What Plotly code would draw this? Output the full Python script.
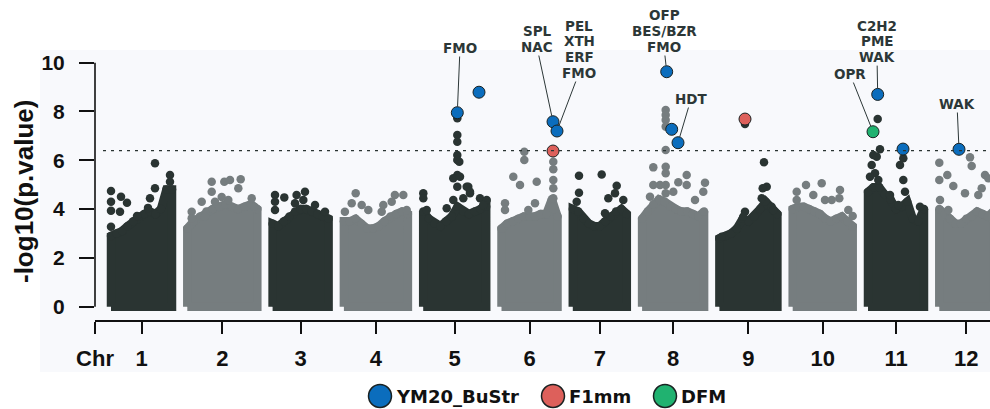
import plotly.graph_objects as go

# ---------------- data ----------------
CHR_NAMES = ["1", "2", "3", "4", "5", "6", "7", "8", "9", "10", "11", "12"]
CHR_LEN = [61, 70, 56, 64, 63, 56, 54, 62, 58, 60, 56, 54]   # Mb (plotted span)
CHR_GAP = 15.3
THRESHOLD = 6.4

# upper edge of the dense band of SNPs, evenly spaced along each chromosome
ENV_C1 = [2.9, 3.0, 3.1, 3.3, 3.5, 3.7, 3.8, 3.9, 3.8, 4.0, 4.8, 4.8]
ENV_C2 = [3.2, 3.5, 3.7, 3.9, 4.0, 4.1, 4.2, 4.1, 4.0, 4.1, 4.2, 4.0]
ENV_C3 = [3.4, 3.3, 3.5, 3.7, 3.9, 4.0, 4.0, 3.9, 3.8, 3.7, 3.6]
ENV_C4 = [3.5, 3.5, 3.6, 3.4, 3.2, 3.2, 3.3, 3.5, 3.7, 3.8, 3.9, 3.8]
ENV_C5 = [3.9, 3.6, 3.4, 3.3, 3.5, 3.7, 4.1, 3.9, 3.8, 3.9, 4.0, 4.1]
ENV_C6 = [3.2, 3.4, 3.5, 3.6, 3.7, 3.7, 3.7, 3.8, 3.8, 4.4, 3.7]
ENV_C7 = [4.0, 3.9, 3.6, 3.4, 3.3, 3.3, 3.5, 3.7, 3.9, 4.0, 3.8]
ENV_C8 = [3.6, 3.9, 4.2, 4.4, 4.3, 4.1, 4.0, 3.9, 3.9, 3.8, 3.7, 3.9]
ENV_C9 = [2.8, 2.9, 3.0, 3.2, 3.6, 3.5, 3.7, 4.0, 4.3, 4.1, 3.8]
ENV_C10 = [4.0, 4.1, 4.1, 4.0, 3.9, 3.8, 3.6, 3.5, 3.6, 3.7, 3.5, 3.3]
ENV_C11 = [4.7, 4.9, 4.9, 4.6, 4.4, 4.0, 4.1, 4.3, 3.6, 3.5, 4.0]
ENV_C12 = [4.0, 3.8, 3.6, 3.4, 3.4, 3.6, 3.7, 3.9, 3.8, 3.7, 3.9]

# individual SNPs standing above the band: position in chromosome (Mb), -log10(p)
PTS_C1_POS = [0, 0, 0, 0, 10, 16, 9, 26, 44, 44, 39, 59, 59, 37]
PTS_C1_VAL = [4.74, 4.3, 3.93, 3.28, 4.51, 4.26, 3.89, 3.72, 5.88, 4.85, 4.44, 5.4, 5.12, 4.05]
PTS_C2_POS = [4.4, 14.4, 24.4, 24.4, 37, 42.7, 53.4, 51, 27.7, 41, 64.4, 67, 17.7, 4.4, 34.4]
PTS_C2_VAL = [3.89, 4.3, 5.12, 4.71, 5.12, 5.19, 5.22, 4.85, 4.3, 4.37, 4.44, 4.1, 3.69, 3.62, 4.5]
PTS_C3_POS = [2.4, 11.7, 24, 32.4, 30.7, 42.4, 52.4, 2.4, 2.4, 22.4]
PTS_C3_VAL = [4.58, 4.48, 4.58, 4.71, 4.37, 4.17, 3.89, 3.96, 4.3, 4.24]
PTS_C4_POS = [11.8, 7.8, 17.8, 24.4, 1, 39.4, 37.8, 51, 59.4, 62.8, 47.8]
PTS_C4_VAL = [4.65, 4.24, 4.17, 3.96, 3.89, 4.17, 3.89, 4.58, 4.58, 3.96, 4.3]
PTS_C5_POS = [34.1, 34.1, 34.1, 34.1, 34.1, 34.1, 30.1, 34.1, 43.5, 46.8, 36.1, 36.8,
              45.1, 30.1, 40.1, 56.8, 63.5, 0.1, 0.1, 3.5, 23.5, 46.8, 60]
PTS_C5_VAL = [7.72, 7.04, 6.76, 6.22, 6.01, 5.4, 5.26, 4.92, 4.92, 4.65, 5.94, 5.33,
              4.92, 4.37, 4.44, 4.44, 4.37, 4.65, 4.44, 3.96, 4.03, 4.71, 4.17]
PTS_C6_POS = [51.8, 51.8, 51.8, 51.8, 11.8, 18.5, 35.2, 33.5, 3.5, 3.5, 22.8, 22.8, 26.8, 51.8]
PTS_C6_VAL = [5.94, 5.63, 5.19, 4.85, 5.33, 4.99, 5.12, 4.24, 4.24, 3.96, 6.35, 6.01, 3.96, 4.44]
PTS_C7_POS = [6.2, 6.2, 28.9, 43.9, 42.2, 35.5, 50.5, 32.2, 3.9]
PTS_C7_VAL = [5.37, 4.67, 5.42, 4.96, 4.65, 4.44, 4.37, 3.83, 4.3]
PTS_C8_POS = [23.6, 23.6, 23.6, 23.6, 23.6, 23.6, 23.6, 23.6, 23.6, 11.2, 11.2, 17.9,
              36.2, 44.6, 62.9, 61.2, 52.9, 44.6, 31.2, 7.9]
PTS_C8_VAL = [8.06, 7.86, 7.65, 7.38, 6.42, 5.74, 5.47, 4.99, 4.65, 5.71, 4.99, 4.99,
              5.1, 5.4, 5.08, 4.71, 4.37, 4.99, 4.71, 4.51]
PTS_C9_POS = [44.6, 47.3, 43.3, 42.3, 25.6, 2.3, 53.9, 25.6, 23.9]
PTS_C9_VAL = [5.92, 4.92, 4.85, 4.44, 3.89, 2.87, 3.96, 7.49, 3.69]
PTS_C10_POS = [4, 13.3, 29, 20.6, 47.3, 46.6, 39, 60, 55.6, 32.3, 4]
PTS_C10_VAL = [4.71, 4.99, 5.06, 4.58, 4.78, 4.44, 4.37, 3.72, 3.96, 4.37, 4.37]
PTS_C11_POS = [9.7, 12, 5.3, 35.3, 32, 35.3, 37, 22, 30.3, 3.7, 7, 2, 10.3, 8.7, 52]
PTS_C11_VAL = [7.69, 6.45, 6.22, 6.08, 5.81, 5.19, 4.71, 4.58, 4.17, 5.81, 5.47, 5.33, 5.19, 6.15, 4.1]
PTS_C12_POS = [0, 8, 14, 30.7, 32.4, 25.7, 42.4, 45.7, 0, 0.7, 39, 49, 9]
PTS_C12_VAL = [5.9, 5.4, 4.95, 6.12, 5.77, 4.65, 4.85, 5.4, 5.19, 4.37, 4.58, 5.26, 3.96]

# significant hits, coloured by trait
HIT_TRAIT = ["YM20_BuStr"] * 10 + ["F1mm"] * 2 + ["DFM"]
HIT_CHR = [5, 5, 6, 6, 8, 8, 8, 11, 11, 12, 6, 9, 11]
HIT_POS = [34.1, 55.8, 51.5, 55.5, 24.6, 29.6, 35.9, 9.7, 35.0, 19.7, 51.5, 25.6, 5.0]
HIT_VAL = [7.95, 8.79, 7.58, 7.2, 9.63, 7.27, 6.72, 8.7, 6.46, 6.45, 6.38, 7.69, 7.17]

# gene-family labels attached to hits (index into HIT_*)
LAB_HIT = [0, 2, 3, 4, 6, 7, 12, 9]
LAB_TEXT = ["FMO", "SPL\nNAC", "PEL\nXTH\nERF\nFMO", "OFP\nBES/BZR\nFMO", "HDT",
            "C2H2\nPME\nWAK", "OPR", "WAK"]
# ---------------- styling ----------------
LAB_DX = [2.7, -16, 22, -2.7, 13, -0.7, -23, -2]
LAB_DY = [-64.7, -74.7, -58, -24.7, -43.7, -37.3, -57.7, -45.3]

TRAITS = ["YM20_BuStr", "F1mm", "DFM"]
TRAIT_COLOR = {"YM20_BuStr": "#0b6dbd", "F1mm": "#dd605b", "DFM": "#20b270"}
CHR_COLORS = ["#2a3432", "#767d7f"]

ENVS = [ENV_C1, ENV_C2, ENV_C3, ENV_C4, ENV_C5, ENV_C6, ENV_C7, ENV_C8, ENV_C9, ENV_C10, ENV_C11, ENV_C12]
PTS_POS = [PTS_C1_POS, PTS_C2_POS, PTS_C3_POS, PTS_C4_POS, PTS_C5_POS, PTS_C6_POS,
           PTS_C7_POS, PTS_C8_POS, PTS_C9_POS, PTS_C10_POS, PTS_C11_POS, PTS_C12_POS]
PTS_VAL = [PTS_C1_VAL, PTS_C2_VAL, PTS_C3_VAL, PTS_C4_VAL, PTS_C5_VAL, PTS_C6_VAL,
           PTS_C7_VAL, PTS_C8_VAL, PTS_C9_VAL, PTS_C10_VAL, PTS_C11_VAL, PTS_C12_VAL]

starts = []
acc = 0.0
for L in CHR_LEN:
    starts.append(acc)
    acc += L + CHR_GAP
centers = [s + L / 2 for s, L in zip(starts, CHR_LEN)]

DOT = 8.5
fig = go.Figure()

# dense bands
for i, env in enumerate(ENVS):
    col = CHR_COLORS[i % 2]
    n = len(env)
    xs = [starts[i] + k * CHR_LEN[i] / (n - 1) for k in range(n)]
    px = [xs[0]] + xs + [xs[-1], xs[0]]
    py = [0] + env + [0, 0]
    fig.add_trace(go.Scatter(x=px, y=py, mode="lines", fill="toself", fillcolor=col,
                             line=dict(color=col, width=DOT), hoverinfo="skip", showlegend=False))
    fig.add_trace(go.Scatter(x=xs, y=env, mode="markers", marker=dict(color=col, size=DOT),
                             hoverinfo="skip", showlegend=False))

# individual points
for i in range(12):
    col = CHR_COLORS[i % 2]
    xs = [starts[i] + p for p in PTS_POS[i]]
    fig.add_trace(go.Scatter(x=xs, y=PTS_VAL[i], mode="markers",
                             marker=dict(color=col, size=DOT), showlegend=False))

# hits
hit_x = [starts[c - 1] + p for c, p in zip(HIT_CHR, HIT_POS)]
for t in TRAITS:
    idx = [k for k, g in enumerate(HIT_TRAIT) if g == t]
    fig.add_trace(go.Scatter(x=[hit_x[k] for k in idx], y=[HIT_VAL[k] for k in idx],
                             mode="markers", name=t, showlegend=False,
                             marker=dict(color=TRAIT_COLOR[t], size=12,
                                         line=dict(color="#1a2222", width=1))))

XMIN, XMAX = -16, 879
YMIN, YMAX = -0.545, 10.52

shapes = []
annos = []
# panel background
shapes.append(dict(type="rect", xref="paper", yref="paper", x0=-0.0615, x1=1.0, y0=-0.193, y1=1.0,
                   fillcolor="#f8f9fc", line=dict(width=0), layer="below"))
# y axis line
shapes.append(dict(type="line", xref="paper", yref="y", x0=0, x1=0, y0=0, y1=10,
                   line=dict(color="#111111", width=1.6)))
# threshold
shapes.append(dict(type="line", xref="x", yref="y", x0=-8, x1=XMAX, y0=THRESHOLD, y1=THRESHOLD,
                   line=dict(color="#2a3432", width=1.3, dash="3px,5px")))

LABEL_FONT = dict(family="DejaVu Sans", size=13.5, color="#2c3737", weight="bold")
LINE_STEP = 15.8
for h, txt, dx, dy in zip(LAB_HIT, LAB_TEXT, LAB_DX, LAB_DY):
    lines = txt.split("\n")
    annos.append(dict(x=hit_x[h], y=HIT_VAL[h], xref="x", yref="y", text=lines[-1],
                      showarrow=True, arrowhead=0, arrowwidth=1, arrowcolor="#2c3737",
                      ax=dx, ay=dy, standoff=6, font=LABEL_FONT, borderpad=0))
    for k, ln in enumerate(reversed(lines[:-1])):
        annos.append(dict(x=hit_x[h], y=HIT_VAL[h], xref="x", yref="y", text=ln,
                          showarrow=False, xshift=dx, yshift=-dy + (k + 1) * LINE_STEP,
                          font=LABEL_FONT, borderpad=0))

# y title
annos.append(dict(x=0, y=4.7, xref="paper", yref="y", text="-log10(p.value)", textangle=-90,
                  showarrow=False, xshift=-71, xanchor="center", yanchor="middle",
                  font=dict(family="Liberation Sans", size=26, color="#111111", weight="bold")))

# legend (manual)
LEG_X = [380, 553, 665]
LEG_Y = 396
for t, lx in zip(TRAITS, LEG_X):
    xp = (lx - 95) / 895
    yp = (320 - LEG_Y) / 270
    shapes.append(dict(type="circle", xref="paper", yref="paper", xsizemode="pixel", ysizemode="pixel",
                       xanchor=xp, yanchor=yp, x0=-11.5, x1=11.5, y0=-11.5, y1=11.5,
                       fillcolor=TRAIT_COLOR[t], line=dict(color="#1a2222", width=1.5)))
    annos.append(dict(x=xp, y=yp, xref="paper", yref="paper", text=t, showarrow=False,
                      xanchor="left", yanchor="middle", xshift=14,
                      font=dict(family="DejaVu Sans", size=18, color="#111111", weight="bold")))

fig.update_layout(
    width=990, height=409,
    margin=dict(l=95, r=0, t=50, b=89),
    paper_bgcolor="white", plot_bgcolor="#f8f9fc",
    shapes=shapes, annotations=annos, showlegend=False,
    xaxis=dict(range=[XMIN, XMAX], tickvals=[XMIN] + centers, ticktext=["Chr"] + CHR_NAMES,
               ticks="outside", ticklen=12, tickwidth=1.6, tickcolor="#111111",
               showline=True, linecolor="#111111", linewidth=1.6, showgrid=False, zeroline=False,
               tickfont=dict(family="Liberation Sans", size=22, color="#111111", weight="bold"),
               ticklabelstandoff=6),
    yaxis=dict(range=[YMIN, YMAX], tickvals=[0, 2, 4, 6, 8, 10],
               ticks="outside", ticklen=15, tickwidth=1.6, tickcolor="#111111",
               showline=False, showgrid=False, zeroline=False,
               tickfont=dict(family="Liberation Sans", size=21, color="#111111", weight="bold"),
               ticklabelstandoff=10),
)

fig.write_html("out.html", config={"displayModeBar": False},
               post_script="document.body.style.margin='0';document.body.style.overflow='hidden';")
